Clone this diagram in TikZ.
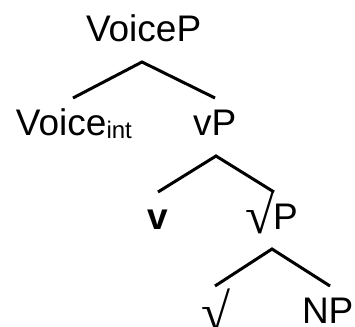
\documentclass[tikz,border=0pt]{standalone}
\usepackage{fontspec}
\setmainfont{Liberation Sans}
\newfontfamily\radfont{Liberation Serif}
\newcommand{\rootsign}{\resizebox*{29pt}{42pt}{\radfont √}}
\begin{document}
\begin{tikzpicture}[x=1pt,y=-1pt,
  lbl/.style={inner sep=0pt,outer sep=0pt,anchor=base west,font=\fontsize{37}{40}\selectfont},
  rad/.style={inner sep=0pt,outer sep=0pt,anchor=north west,font=\fontsize{37}{40}\selectfont},
  branch/.style={line width=3pt,line join=miter}]
\useasboundingbox (0,0) rectangle (355,326);
% labels
\node[lbl] (voicep) at (86,42) {VoiceP};
\node[lbl] (voiceint) at (16,135) {Voice\raisebox{-3pt}{\fontsize{24}{26}\selectfont int}};
\node[lbl] (vp) at (193,135) {vP};
\node[lbl] (v) at (147,229) {\bfseries v};
\node[rad] (rootsym) at (245,192) {\rootsign};
\node[lbl] (rootp) at (273,229) {P};
\node[rad] (root) at (201,289) {\rootsign};
\node[lbl] (np) at (302,323) {NP};
% branch points
\coordinate (t1) at (142,62);
\coordinate (l1) at (73,98);
\coordinate (r1) at (215,98);
\coordinate (t2) at (216,156);
\coordinate (l2) at (158,192);
\coordinate (r2) at (274,192);
\coordinate (t3) at (272,249);
\coordinate (l3) at (215,286);
\coordinate (r3) at (330,286);
% branches
\draw[branch] (l1) -- (t1) -- (r1);
\draw[branch] (l2) -- (t2) -- (r2);
\draw[branch] (l3) -- (t3) -- (r3);
\end{tikzpicture}
\end{document}
